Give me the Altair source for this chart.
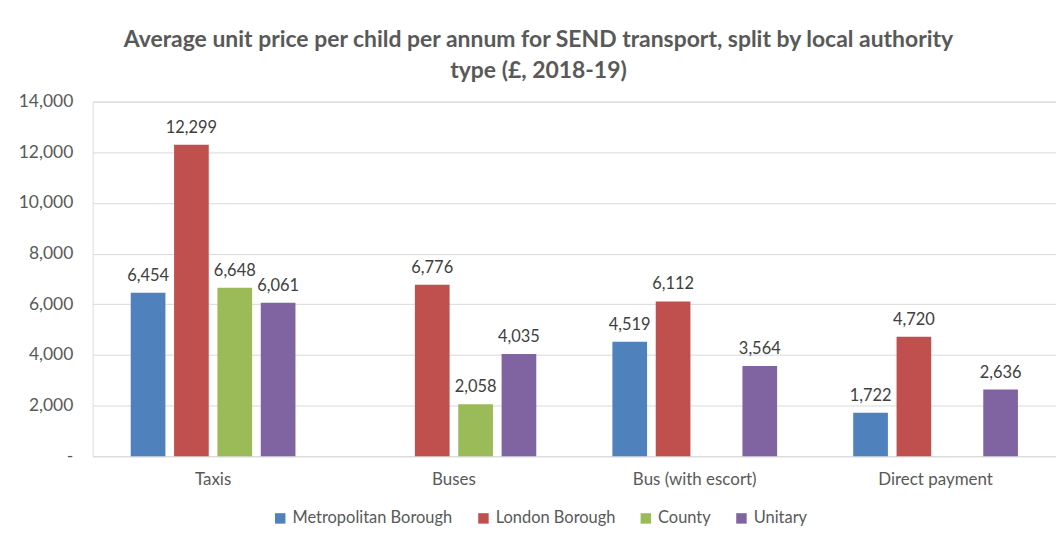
import altair as alt
import pandas as pd

categories = ["Taxis", "Buses", "Bus (with escort)", "Direct payment"]
series = ["Metropolitan Borough", "London Borough", "County", "Unitary"]
colors = ["#4F81BD", "#C0504D", "#9BBB59", "#8064A2"]

metropolitan = [6454, None, 4519, 1722]
london = [12299, 6776, 6112, 4720]
county = [6648, 2058, None, None]
unitary = [6061, 4035, 3564, 2636]

rows = []
for s, vals in zip(series, [metropolitan, london, county, unitary]):
    for c, v in zip(categories, vals):
        if v is not None:
            rows.append({"type": c, "authority": s, "value": v})
df = pd.DataFrame(rows)

FONT = "Lato"
GREY = "#595959"

base = alt.Chart(df).encode(
    x=alt.X("type:N", sort=categories,
            scale=alt.Scale(paddingInner=0.28, paddingOuter=0.14),
            axis=alt.Axis(title=None, labelAngle=0, ticks=False, domain=False,
                          labelFontSize=17, labelColor=GREY, labelFont=FONT,
                          labelPadding=15)),
    xOffset=alt.XOffset("authority:N", sort=series,
                        scale=alt.Scale(domain=series, paddingInner=0.2, paddingOuter=0.1)),
    y=alt.Y("value:Q",
            scale=alt.Scale(domain=[0, 14000]),
            axis=alt.Axis(title=None, values=list(range(0, 14001, 2000)),
                          labelExpr="datum.value == 0 ? '-' : format(datum.value, ',')",
                          ticks=False, domain=False, labelFontSize=17.5,
                          labelColor=GREY, labelFont=FONT, labelPadding=20,
                          gridColor="#D9D9D9", gridWidth=1)),
)

bars = base.mark_bar().encode(
    color=alt.Color("authority:N", sort=series,
                    scale=alt.Scale(domain=series, range=colors),
                    legend=alt.Legend(title=None, orient="none", direction="horizontal",
                                      legendX=180, legendY=410,
                                      symbolType="square", symbolSize=110,
                                      symbolStrokeWidth=0, labelFontSize=16.5,
                                      labelColor=GREY, labelFont=FONT, labelLimit=0,
                                      columnPadding=22, labelOffset=4)),
)

labels = base.mark_text(dy=-17, fontSize=16.5, color="#404040", font=FONT).encode(
    text=alt.Text("value:Q", format=",")
)

chart = (bars + labels).properties(
    width=967,
    height=356,
    autosize=alt.AutoSizeParams(type="none"),
    padding={"left": 85, "top": 93, "right": 0, "bottom": 70},
    title=alt.TitleParams(
        text=["Average unit price per child per annum for SEND transport, split by local authority",
              "type (£, 2018-19)"],
        font=FONT, fontSize=23, fontWeight="bold", color=GREY,
        anchor="middle", dx=-36, offset=10, lineHeight=31,
    ),
).configure_view(stroke=None).configure(background="white")

chart.save("out.html", embed_options={"renderer": "svg", "actions": False})
